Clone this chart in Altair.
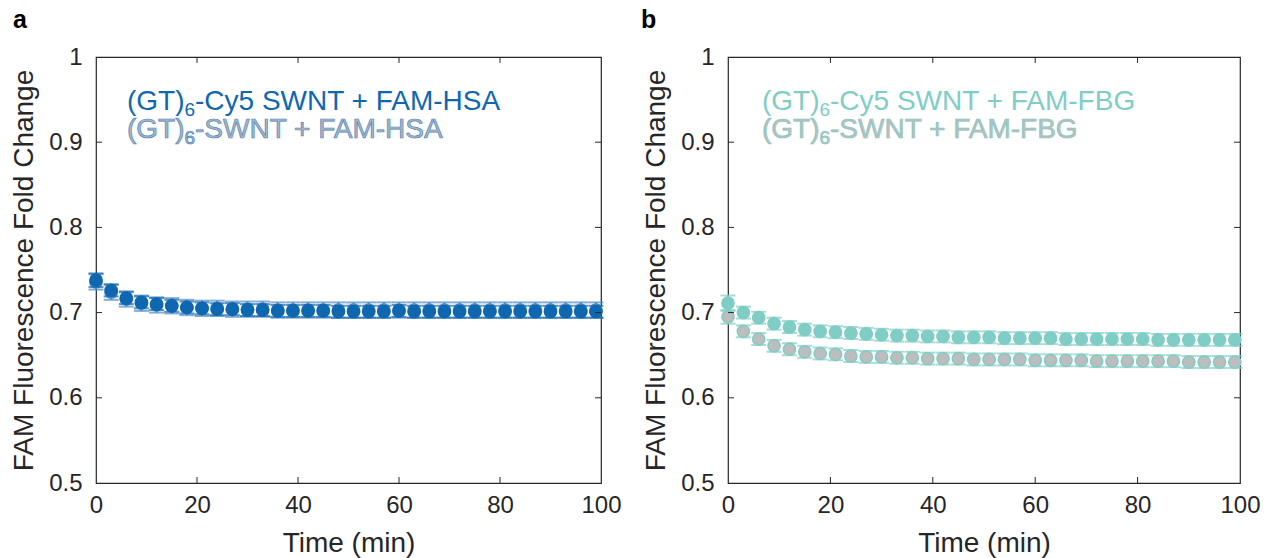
import altair as alt
import pandas as pd

# ---------------- data ----------------
time_min = [0, 3, 6, 9, 12, 15, 18, 21, 24, 27, 30, 33, 36, 39, 42, 45, 48,
            51, 54, 57, 60, 63, 66, 69, 72, 75, 78, 81, 84, 87, 90, 93, 96, 99]

# panel a: HSA
hsa_cy5 = [0.738, 0.726, 0.717, 0.712, 0.710, 0.708, 0.706, 0.705, 0.704, 0.704,
           0.703, 0.703, 0.702, 0.702, 0.702, 0.702, 0.701, 0.701, 0.701, 0.701,
           0.702, 0.701, 0.701, 0.701, 0.701, 0.701, 0.701, 0.701, 0.701, 0.701,
           0.701, 0.701, 0.701, 0.701]
hsa_cy5_err = [0.008] + [0.007] * 33
hsa_plain = [0.736, 0.724, 0.716, 0.711, 0.709, 0.708, 0.706, 0.705, 0.705, 0.704,
             0.704, 0.704, 0.703, 0.703, 0.703, 0.703, 0.703, 0.703, 0.703, 0.703,
             0.703, 0.703, 0.703, 0.703, 0.703, 0.703, 0.703, 0.703, 0.703, 0.703,
             0.703, 0.703, 0.703, 0.703]
hsa_plain_err = [0.009] * 34

# panel b: FBG
fbg_cy5 = [0.711, 0.700, 0.694, 0.687, 0.683, 0.680, 0.678, 0.677, 0.676, 0.675,
           0.674, 0.673, 0.673, 0.672, 0.672, 0.671, 0.671, 0.671, 0.670, 0.670,
           0.670, 0.670, 0.669, 0.669, 0.669, 0.669, 0.669, 0.669, 0.668, 0.668,
           0.668, 0.668, 0.668, 0.668]
fbg_cy5_err = [0.009] + [0.007] * 33
fbg_plain = [0.695, 0.678, 0.669, 0.661, 0.657, 0.654, 0.652, 0.651, 0.649, 0.648,
             0.648, 0.647, 0.647, 0.646, 0.646, 0.646, 0.645, 0.645, 0.645, 0.645,
             0.644, 0.644, 0.644, 0.644, 0.643, 0.643, 0.643, 0.643, 0.643, 0.643,
             0.642, 0.642, 0.642, 0.642]
fbg_plain_err = [0.008] + [0.007] * 33

x_ticks = [0, 20, 40, 60, 80, 100]
y_ticks = [0.5, 0.6, 0.7, 0.8, 0.9, 1.0]

FONT = "Liberation Sans"
TXT = "#262626"
H = 426


def frame(values, errs):
    return pd.DataFrame({
        "t": time_min, "v": values,
        "lo": [v - e for v, e in zip(values, errs)],
        "hi": [v + e for v, e in zip(values, errs)],
    })


AX = dict(ticks=False, domain=False, grid=False, labelFont=FONT, titleFont=FONT,
          labelFontSize=24, titleFontSize=28, labelColor=TXT, titleColor=TXT,
          titleFontWeight="normal", labelFlush=False)


def panel(series, legend, label, width, legend_x, label_x):
    xs = alt.Scale(domain=[0, 100], nice=False)
    ys = alt.Scale(domain=[0.5, 1.0], nice=False)
    xax = alt.Axis(values=x_ticks, format="d", title="Time (min)",
                   labelPadding=10, titlePadding=12, **AX)
    yax = alt.Axis(values=y_ticks, format=".1~f", title="FAM Fluorescence Fold Change",
                   labelPadding=14, titlePadding=10, **AX)
    layers = []
    for i, (vals, errs, face, edge, barc) in enumerate(series):
        df = frame(vals, errs)
        base = alt.Chart(df)
        if i == 0:
            x_enc = alt.X("t:Q", scale=xs, axis=xax)
            y_enc = alt.Y("v:Q", scale=ys, axis=yax)
        else:
            x_enc = alt.X("t:Q", scale=xs)
            y_enc = alt.Y("v:Q", scale=ys)
        rule = base.mark_rule(color=barc, strokeWidth=2).encode(
            x=x_enc, y=alt.Y("lo:Q", scale=ys), y2="hi:Q")
        cap_lo = base.mark_tick(color=barc, orient="horizontal", size=15, thickness=2).encode(
            x=alt.X("t:Q", scale=xs), y=alt.Y("lo:Q", scale=ys))
        cap_hi = base.mark_tick(color=barc, orient="horizontal", size=15, thickness=2).encode(
            x=alt.X("t:Q", scale=xs), y=alt.Y("hi:Q", scale=ys))
        pts = base.mark_point(filled=True, shape="circle", size=150, fill=face,
                              stroke=edge, strokeWidth=1.5, opacity=1).encode(
            x=alt.X("t:Q", scale=xs), y=y_enc)
        layers += [rule, cap_lo, cap_hi, pts]

    # inward ticks on all four sides
    inner_x = pd.DataFrame({"t": x_ticks[1:-1]})
    inner_y = pd.DataFrame({"v": y_ticks[1:-1]})
    tk = dict(color=TXT, strokeWidth=1)
    layers += [
        alt.Chart(inner_x).mark_rule(**tk).encode(
            x=alt.X("t:Q", scale=xs), y=alt.value(H), y2=alt.value(H - 6)),
        alt.Chart(inner_x).mark_rule(**tk).encode(
            x=alt.X("t:Q", scale=xs), y=alt.value(0), y2=alt.value(6)),
        alt.Chart(inner_y).mark_rule(**tk).encode(
            y=alt.Y("v:Q", scale=ys), x=alt.value(0), x2=alt.value(6)),
        alt.Chart(inner_y).mark_rule(**tk).encode(
            y=alt.Y("v:Q", scale=ys), x=alt.value(width), x2=alt.value(width - 6)),
    ]

    # legend text with subscript
    one = pd.DataFrame({"k": [0]})
    for j, (rest, fill, stroke) in enumerate(legend):
        yb = 53 + 28 * j
        common = dict(font=FONT, align="left", baseline="alphabetic", fill=fill)
        if stroke:
            common.update(stroke=stroke, strokeWidth=0.7)
        layers += [
            alt.Chart(one).mark_text(fontSize=28, **common).encode(
                x=alt.value(legend_x), y=alt.value(yb), text=alt.value("(GT)")),
            alt.Chart(one).mark_text(fontSize=19, **common).encode(
                x=alt.value(legend_x + 57.5), y=alt.value(yb + 6), text=alt.value("6")),
            alt.Chart(one).mark_text(fontSize=28, **common).encode(
                x=alt.value(legend_x + 68), y=alt.value(yb), text=alt.value(rest)),
        ]

    layers.append(
        alt.Chart(one).mark_text(font=FONT, fontSize=25, fontWeight="bold", color="black",
                                 align="left", baseline="alphabetic").encode(
            x=alt.value(label_x), y=alt.value(-29), text=alt.value(label)))

    return alt.layer(*layers).properties(width=width, height=H)


BLUE = "#0f67b0"
TEAL = "#7fcdc4"
GRAY = "#bdbdbd"

left = panel(
    [(hsa_plain, hsa_plain_err, GRAY, "#4f8cc4", "#4f8cc4"),
     (hsa_cy5, hsa_cy5_err, BLUE, BLUE, BLUE)],
    [("-Cy5 SWNT + FAM-HSA", BLUE, None),
     ("-SWNT + FAM-HSA", "#aab6c2", "#4f86bd")],
    "a", 505, 31, -83)

right = panel(
    [(fbg_cy5, fbg_cy5_err, TEAL, TEAL, TEAL),
     (fbg_plain, fbg_plain_err, GRAY, TEAL, TEAL)],
    [("-Cy5 SWNT + FAM-FBG", TEAL, None),
     ("-SWNT + FAM-FBG", "#b9bebd", "#86c9c1")],
    "b", 512, 34, -87)

chart = alt.hconcat(left, right, spacing=18).properties(
    padding={"left": 10, "top": 7, "right": 0, "bottom": 0},
    background="white"
).configure_view(stroke=TXT, strokeWidth=1.2)

chart.save("out.html", embed_options={"renderer": "svg", "actions": False})
